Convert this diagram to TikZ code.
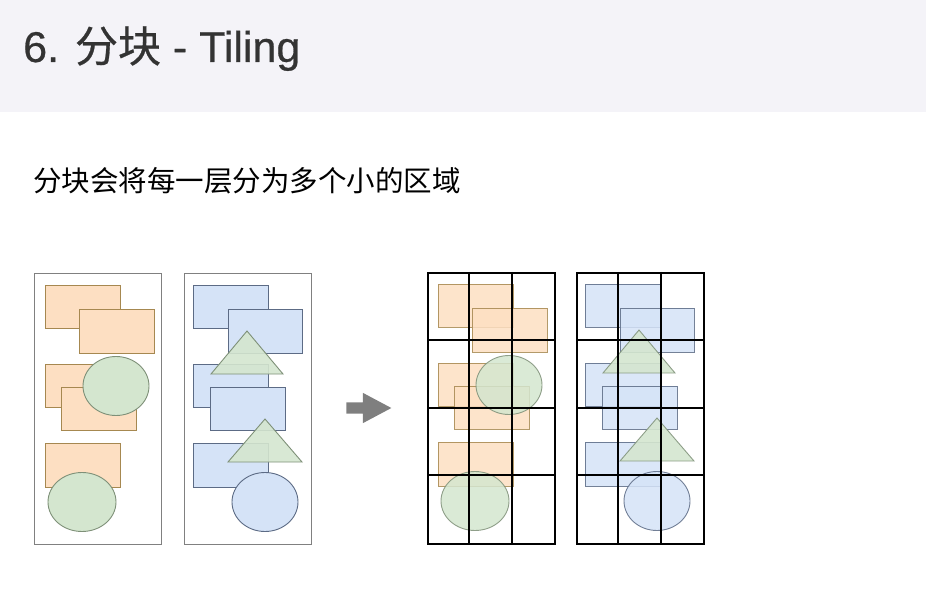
\documentclass[tikz,border=0pt]{standalone}
\usepackage{fontspec}
\setmainfont{Liberation Sans}
\newfontfamily\cjk{Noto Sans CJK SC}
\usepackage{tikz}
\usetikzlibrary{shapes.arrows}
\definecolor{band}{HTML}{F4F3F8}
\definecolor{ink}{HTML}{333333}
\definecolor{peach}{HTML}{FDDFC2}
\definecolor{peachline}{HTML}{A68850}
\definecolor{sky}{HTML}{D5E3F7}
\definecolor{skyline}{HTML}{5C6B85}
\definecolor{sage}{HTML}{D4E6CF}
\definecolor{sageline}{HTML}{7E9078}
\definecolor{frame}{HTML}{808080}
\definecolor{arrowgray}{HTML}{7F7F7F}

\tikzset{
  warmrect/.style={fill=peach, draw=peachline, line width=0.9pt},
  coolrect/.style={fill=sky, draw=skyline, line width=0.9pt},
  blob/.style={fill=sage, draw=sageline, line width=0.9pt},
  coolblob/.style={fill=sky, draw=skyline, line width=0.9pt},
  wedge/.style={fill=sage, draw=sageline, line width=0.9pt, fill opacity=0.9},
  srcbox/.style={draw=frame, line width=1pt, anchor=north west, inner sep=0pt,
    minimum width=127pt, minimum height=271pt},
  tilebox/.style={draw=black, line width=2pt, anchor=north west, inner sep=0pt,
    minimum width=127pt, minimum height=271pt},
  gridline/.style={black, line width=2pt},
}

% layer with rectangles and ellipses (origin = panel top left)
\newcommand\warmshapes{%
  \draw[warmrect] (11,12) rectangle (86,55);
  \draw[warmrect] (45,36) rectangle (120,80);
  \draw[warmrect] (11,91) rectangle (86,134);
  \draw[warmrect] (27,114) rectangle (102,157);
  \draw[blob] (82,113) ellipse [x radius=33, y radius=29.5];
  \draw[warmrect] (11,170) rectangle (86,214);
  \draw[blob] (48,229) ellipse [x radius=34, y radius=29.5];
}
% layer with rectangles and triangles
\newcommand\coolshapes{%
  \draw[coolrect] (9,12) rectangle (84,55);
  \draw[coolrect] (44,36) rectangle (118,80);
  \draw[coolrect] (9,91) rectangle (84,134);
  \draw[coolrect] (26,114) rectangle (101,157);
  \draw[coolrect] (9,170) rectangle (84,214);
  \draw[wedge] (63,58) -- (99,101) -- (27,101) -- cycle;
  \draw[wedge] (81,146) -- (118,189) -- (44,189) -- cycle;
  \draw[coolblob] (81,229) ellipse [x radius=33, y radius=29.5];
}

\begin{document}
\begin{tikzpicture}[x=1pt, y=-1pt]
\useasboundingbox (0,0) rectangle (926,612);
% Header band
\fill[band] (0,0) rectangle (926,112);
\node[anchor=base west, inner sep=0pt, text=ink,
  font=\fontsize{43}{48}\selectfont\addfontfeatures{FakeBold=0.6}]
  (title) at (23,62) {6. {\cjk\addfontfeatures{FakeBold=0.6}分块} - Tiling};
\node[anchor=base west, inner sep=0pt, font=\cjk\fontsize{28.5}{32}\selectfont]
  (lead) at (33,192) {分块会将每一层分为多个小的区域};

% Source layers
\node[srcbox] (warmsrc) at (34,273) {};
\begin{scope}[shift={(34,273)}] \warmshapes \end{scope}
\node[srcbox] (coolsrc) at (184,273) {};
\begin{scope}[shift={(184,273)}] \coolshapes \end{scope}

% Arrow
\node[single arrow, fill=arrowgray, inner xsep=0pt, inner ysep=5.5pt,
  minimum width=30pt, minimum height=45pt, single arrow head extend=9.5pt,
  single arrow tip angle=56] (tilearrow) at (363.5,408) {};

% Tiled layers
\begin{scope}[shift={(427,272)}, opacity=0.85] \warmshapes \end{scope}
\node[tilebox] (warmtile) at (427,272) {};
\begin{scope}[shift={(576,272)}, opacity=0.85] \coolshapes \end{scope}
\node[tilebox] (cooltile) at (576,272) {};
\foreach \ox in {427,576}{
  \foreach \gx in {42.33,84.67}
    \draw[gridline] (\ox+\gx,272) -- (\ox+\gx,543);
  \foreach \gy in {67.75,135.5,203.25}
    \draw[gridline] (\ox,272+\gy) -- (\ox+127,272+\gy);
}
\end{tikzpicture}
\end{document}
